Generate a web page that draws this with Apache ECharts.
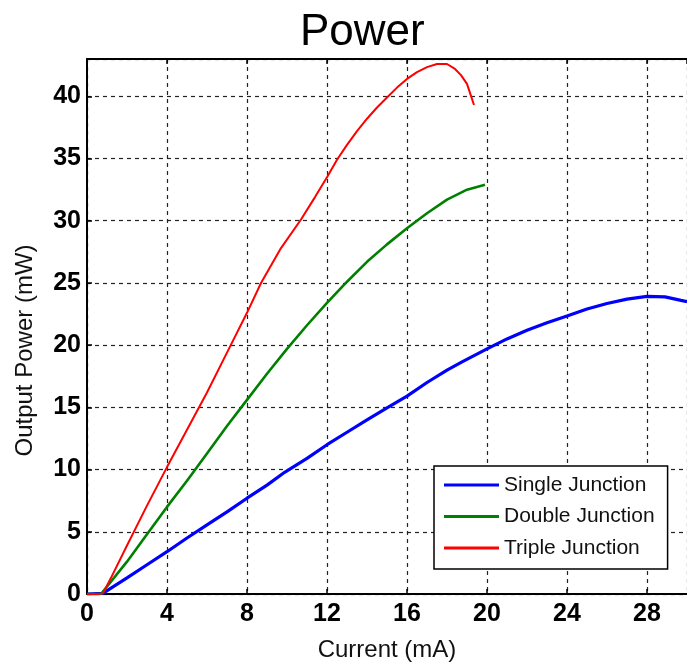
<!DOCTYPE html>
<html>
<head>
<meta charset="utf-8">
<script src="https://cdn.jsdelivr.net/npm/echarts@6/dist/echarts.min.js"></script>
<style>
  html, body { margin: 0; padding: 0; background: #fff; }
  #chart { width: 687px; height: 667px; }
</style>
</head>
<body>
<div id="chart"></div>
<script>
// values: current (mA) / output power (mW)
const singleCurrent = [0, 0.79, 2, 3, 4, 5, 6, 7, 8, 9, 9.9, 11, 12, 13, 14, 15, 16, 17, 18, 18.8, 20, 21, 22, 23, 24, 25, 26, 27, 28, 28.9, 29.7, 30];
const singlePower   = [0, 0.05, 1.3, 2.35, 3.4, 4.5, 5.55, 6.6, 7.7, 8.75, 9.8, 10.9, 12.0, 13.0, 14.0, 14.95, 15.9, 17.0, 18.0, 18.7, 19.7, 20.5, 21.2, 21.8, 22.35, 22.9, 23.35, 23.7, 23.92, 23.88, 23.6, 23.5];

const doubleCurrent = [0, 0.7, 2, 3, 4, 5, 6, 7, 8, 9, 10, 11, 12, 13, 14, 15, 16, 17, 18, 19, 19.9];
const doublePower   = [0, 0, 2.6, 4.8, 7.0, 9.1, 11.3, 13.5, 15.6, 17.7, 19.7, 21.6, 23.4, 25.1, 26.7, 28.1, 29.4, 30.6, 31.7, 32.5, 32.9];

const tripleCurrent = [0, 0.5, 0.8, 1.2, 2, 3, 4, 5, 6, 7, 8, 8.7, 9.7, 10.7, 11.4, 12, 12.5, 13, 13.5, 14, 14.5, 15, 15.5, 16, 16.5, 17, 17.5, 18, 18.4, 18.7, 19, 19.35];
const triplePower   = [0, 0, 0.05, 1.3, 3.9, 7.1, 10.2, 13.2, 16.2, 19.4, 22.6, 25.0, 27.8, 30.1, 31.9, 33.5, 34.9, 36.1, 37.2, 38.2, 39.1, 39.9, 40.7, 41.4, 41.95, 42.35, 42.6, 42.6, 42.2, 41.7, 41.0, 39.3];

const seriesNames = ['Single Junction', 'Double Junction', 'Triple Junction'];

function pairs(xs, ys) {
    return xs.map((x, i) => [x, ys[i]]);
}

const chart = echarts.init(document.getElementById('chart'));
const font = 'Liberation Sans, Arial, sans-serif';
const dash = { color: '#222', width: 1.2, type: [4, 4] };

chart.setOption({
    animation: false,
    backgroundColor: '#fff',
    title: {
        text: 'Power',
        left: 295,
        top: 6,
        textStyle: { fontFamily: font, fontSize: 44, fontWeight: 'normal', color: '#000' }
    },
    grid: { left: 87, top: 59, bottom: 73, right: -5, containLabel: false },
    legend: {
        orient: 'vertical',
        left: 434,
        top: 466,
        padding: [8, 13, 10, 10],
        itemWidth: 55,
        itemHeight: 3,
        itemGap: 9.5,
        icon: 'rect',
        backgroundColor: '#fff',
        borderColor: '#000',
        borderWidth: 1.5,
        borderRadius: 0,
        textStyle: { fontFamily: font, fontSize: 21, color: '#111', lineHeight: 22 },
        data: seriesNames
    },
    xAxis: [{
        type: 'value',
        min: 0,
        max: 30,
        interval: 4,
        name: 'Current (mA)',
        nameLocation: 'middle',
        nameGap: 44,
        nameTextStyle: { fontFamily: font, fontSize: 24, color: '#111' },
        axisLine: { lineStyle: { color: '#000', width: 2 } },
        axisTick: { inside: true, length: 5, lineStyle: { color: '#000', width: 1.5 } },
        axisLabel: { fontFamily: font, fontSize: 25, fontWeight: 'bold', color: '#000', margin: 8, showMaxLabel: false },
        splitLine: { show: true, lineStyle: dash }
    }, {
        type: 'value',
        position: 'top',
        min: 0,
        max: 30,
        interval: 4,
        axisLine: { show: true, onZero: false, lineStyle: { color: '#000', width: 2 } },
        axisTick: { show: true, inside: true, length: 5, lineStyle: { color: '#000', width: 1.5 } },
        axisLabel: { show: false },
        splitLine: { show: false }
    }],
    yAxis: {
        type: 'value',
        min: 0,
        max: 43,
        interval: 5,
        name: 'Output Power (mW)',
        nameLocation: 'middle',
        nameGap: 50,
        nameTextStyle: { fontFamily: font, fontSize: 24, color: '#111', padding: [0, 48, 0, 0] },
        axisLine: { show: true, lineStyle: { color: '#000', width: 2 } },
        axisTick: { show: true, inside: true, length: 5, lineStyle: { color: '#000', width: 1.5 } },
        axisLabel: { fontFamily: font, fontSize: 25, fontWeight: 'bold', color: '#000', margin: 6, showMaxLabel: false },
        splitLine: { show: true, lineStyle: dash }
    },
    series: [{
        name: seriesNames[0],
        type: 'line',
        data: pairs(singleCurrent, singlePower),
        showSymbol: false,
        color: '#0000ff',
        lineStyle: { width: 3.2 }
    }, {
        name: seriesNames[1],
        type: 'line',
        data: pairs(doubleCurrent, doublePower),
        showSymbol: false,
        color: '#008000',
        lineStyle: { width: 2.6 }
    }, {
        name: seriesNames[2],
        type: 'line',
        data: pairs(tripleCurrent, triplePower),
        showSymbol: false,
        color: '#ff0000',
        lineStyle: { width: 2 }
    }]
});
</script>
</body>
</html>
